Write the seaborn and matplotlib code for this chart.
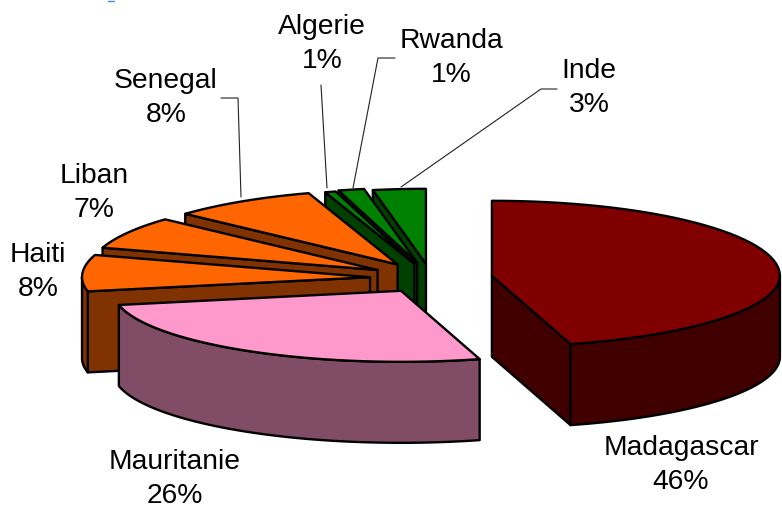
import numpy as np
import pandas as pd
import seaborn as sns
import matplotlib.pyplot as plt

countries = ["Madagascar", "Mauritanie", "Haiti", "Liban", "Senegal", "Algerie", "Rwanda", "Inde"]
shares = [45.6, 26.2, 8.0, 7.0, 8.2, 0.6, 1.45, 2.95]
percent_labels = ["46%", "26%", "8%", "7%", "8%", "1%", "1%", "3%"]

top_colors = ["#800000", "#FF99CC", "#FF6600", "#FF6600", "#FF6600", "#008000", "#008000", "#008000"]
side_colors = ["#400000", "#804C66", "#803300", "#803300", "#803300", "#004000", "#004000", "#004000"]
explode = [0.2135, 0.2, 0.212, 0.214, 0.214, 0.2, 0.21, 0.19]

label_x = [681, 175, 38, 94, 166, 322, 451, 589]
label_y = [465, 479, 272, 193, 98, 44, 58, 88]

leader_x = [[221, 238, 241], [321, 327], [395, 378, 353], [557, 541, 401]]
leader_y = [[98, 98, 197], [85, 188], [58, 58, 188], [89, 89, 187]]

CX, CY = 431, 278
A, B_BACK, B_FRONT = 288, 75, 71
DEPTH = 81
EDGE = 1.7

sns.set_theme(style="white")
plt.rcParams["font.family"] = ["Liberation Sans", "DejaVu Sans"]

df = pd.DataFrame({"country": countries, "share": shares, "pct": percent_labels,
                   "top": top_colors, "side": side_colors, "explode": explode})
df["end"] = df["share"].cumsum() * 3.6
df["start"] = df["end"] - df["share"] * 3.6
df["mid"] = (df["start"] + df["end"]) / 2

fig = plt.figure(figsize=(7.82, 5.09), dpi=100)
ax = fig.add_axes([0, 0, 1, 1])


def rim(cx, cy, t0, t1):
    t = np.radians(np.linspace(t0, t1, 60))
    c = np.cos(t)
    # front half of the ellipse is a bit flatter in the original
    return cx + A * np.sin(t), cy - np.where(c > 0, B_BACK, B_FRONT) * c


def side_face(x, y, color):
    xs = np.concatenate([x, x[::-1]])
    ys = np.concatenate([y, y[::-1] + DEPTH])
    ax.fill(xs, ys, facecolor=color, edgecolor="black", lw=EDGE, joinstyle="round")


def draw_slice(s):
    m = np.radians(s["mid"])
    cx = CX + s["explode"] * A * np.sin(m)
    cy = CY - s["explode"] * B_BACK * np.cos(m)
    x0, y0 = rim(cx, cy, s["start"], s["start"])
    x1, y1 = rim(cx, cy, s["end"], s["end"])
    if np.sin(np.radians(s["start"])) < -1e-6:
        side_face(np.array([cx, x0[0]]), np.array([cy, y0[0]]), s["side"])
    if np.sin(np.radians(s["end"])) > 1e-6:
        side_face(np.array([cx, x1[0]]), np.array([cy, y1[0]]), s["side"])
    w0, w1 = max(s["start"], 90), min(s["end"], 270)
    if w1 > w0:
        wx, wy = rim(cx, cy, w0, w1)
        side_face(wx, wy, s["side"])
    rx, ry = rim(cx, cy, s["start"], s["end"])
    ax.fill(np.r_[cx, rx], np.r_[cy, ry], facecolor=s["top"], edgecolor="black", lw=EDGE, joinstyle="round")


# back slices first, the front ones cover them
for name in ["Inde", "Rwanda", "Algerie", "Senegal", "Liban", "Haiti", "Madagascar", "Mauritanie"]:
    draw_slice(df[df["country"] == name].iloc[0])

for lx, ly in zip(leader_x, leader_y):
    sns.lineplot(x=lx, y=ly, ax=ax, sort=False, estimator=None, color="#222222", lw=0.8, legend=False)

for i in range(len(df)):
    ax.text(label_x[i], label_y[i], countries[i] + "\n" + percent_labels[i], ha="center", va="center",
            fontsize=20.3, color="black", linespacing=1.37)

# bit of blue left over at the top edge of the source image
ax.plot([108, 114], [0.5, 0.5], color="#3D8FE6", lw=1)

ax.set_xlim(0, 782)
ax.set_ylim(509, 0)
ax.axis("off")
fig.savefig("out.png", dpi=100, facecolor="white")
